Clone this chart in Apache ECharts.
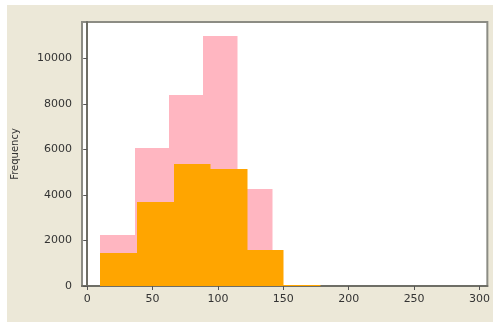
<!DOCTYPE html>
<html>
<head>
<meta charset="utf-8">
<script src="https://cdn.jsdelivr.net/npm/echarts@6/dist/echarts.min.js"></script>
<style>
html,body{margin:0;padding:0;background:#ffffff;}
#chart{width:493px;height:322px;}
</style>
</head>
<body>
<div id="chart"></div>
<script>
// Bin edges and counts for the two overlaid histograms
const pinkEdges = [10, 36.2, 62.4, 88.6, 114.8, 141];
const pinkCounts = [2250, 6050, 8380, 11000, 4280];
const orangeEdges = [10, 38, 66, 94, 122, 150, 178, 206, 234, 262, 290];
const orangeCounts = [1450, 3700, 5380, 5120, 1600, 60, 15, 5, 2, 1];
const xTicks = [0, 50, 100, 150, 200, 250, 300];
const yTicks = [0, 2000, 4000, 6000, 8000, 10000];
const yName = 'Frequency';

function binData(edges, counts) {
  return counts.map((c, i) => [edges[i], edges[i + 1], c]);
}

function histItem(color) {
  return function (params, api) {
    const p0 = api.coord([api.value(0), 0]);
    const p1 = api.coord([api.value(1), api.value(2)]);
    const x0 = Math.round(p0[0]), x1 = Math.round(p1[0]);
    const yb = Math.round(p0[1]), yt = Math.round(p1[1]);
    return {
      type: 'rect',
      shape: { x: x0, y: yt, width: x1 - x0 + 0.5, height: yb - yt },
      style: { fill: color, stroke: 'transparent', lineWidth: 0 },
      emphasisDisabled: true
    };
  };
}

const chart = echarts.init(document.getElementById('chart'), null, { renderer: 'canvas' });
chart.setOption({
  backgroundColor: '#ffffff',
  animation: false,
  graphic: [{
    type: 'rect', z: -10, silent: true,
    shape: { x: 7, y: 5, width: 486, height: 317 },
    style: { fill: '#ece8d8' }
  }],
  grid: {
    left: 82, top: 22, width: 406, height: 264,
    show: true, backgroundColor: '#ffffff', borderColor: '#8c8c84', borderWidth: 2
  },
  xAxis: {
    type: 'value', min: -4, max: 306,
    axisLine: { show: true, lineStyle: { color: '#6e6e66', width: 2 } },
    axisTick: { show: true, length: 4, customValues: xTicks, lineStyle: { color: '#555' } },
    axisLabel: { customValues: xTicks, color: '#333', fontSize: 11, margin: 8, fontFamily: 'DejaVu Sans', formatter: v => String(v) },
    splitLine: { show: false }
  },
  yAxis: {
    type: 'value', min: 0, max: 11600,
    name: yName, nameLocation: 'middle', nameGap: 62,
    nameTextStyle: { color: '#333', fontSize: 10, fontFamily: 'DejaVu Sans' },
    axisLine: { show: true, lineStyle: { color: '#6e6e66', width: 2 } },
    axisTick: { show: true, length: 4, customValues: yTicks, lineStyle: { color: '#555' } },
    axisLabel: { customValues: yTicks, color: '#333', fontSize: 11, margin: 10, fontFamily: 'DejaVu Sans', formatter: v => String(v) },
    splitLine: { show: false }
  },
  series: [
    { type: 'custom', renderItem: histItem('#ffb6c1'), data: binData(pinkEdges, pinkCounts), encode: { x: [0, 1], y: 2 }, z: 2, itemStyle: { borderWidth: 0, borderColor: 'transparent' } },
    { type: 'custom', renderItem: histItem('#ffa500'), data: binData(orangeEdges, orangeCounts), encode: { x: [0, 1], y: 2 }, z: 3, itemStyle: { borderWidth: 0, borderColor: 'transparent' } }
  ]
});
</script>
</body>
</html>
